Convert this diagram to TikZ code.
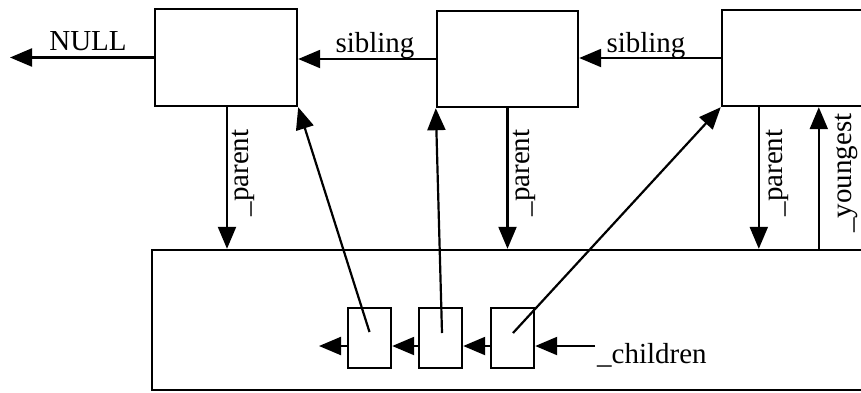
\documentclass[tikz,border=0pt]{standalone}
\usepackage{fontspec}
\setmainfont{Liberation Serif}
\usetikzlibrary{arrows.meta}
\begin{document}
\begin{tikzpicture}[x=1pt,y=-1pt,
  box/.style={draw,line width=2.4pt,rectangle,inner sep=0pt},
  arr/.style={line width=2.2pt,-{Triangle[length=22pt,width=18pt]}},
  lbl/.style={inner sep=0pt,font=\fontsize{29}{31}\selectfont},
  rlbl/.style={lbl,rotate=90}]
  \clip (0,0) rectangle (861,392);
  \fill[white] (0,0) rectangle (861,392);
  % objects of the list
  \node[box,minimum width=142,minimum height=97] (b1) at (226,57.5) {};
  \node[box,minimum width=141,minimum height=96] (b2) at (507.5,59) {};
  \node[box,minimum width=178,minimum height=96] (b3) at (811,58) {};
  % parent object and its child array
  \node[box,minimum width=748,minimum height=140] (big) at (526,320) {};
  \node[box,minimum width=43,minimum height=60] (ca) at (369.5,338) {};
  \node[box,minimum width=43,minimum height=60] (cb) at (440.5,338) {};
  \node[box,minimum width=43,minimum height=60] (cc) at (512.5,338) {};
  \coordinate (null) at (10,57.5);
  \coordinate (aend) at (319,346);
  \coordinate (cin) at (595,346);
  % sibling chain
  \draw[arr] (b1.west) -- (null);
  \node[lbl,anchor=base] (tnull) at (88,50) {NULL};
  \draw[arr] (b2.west) -- (b2.west -| b1.east);
  \node[lbl,anchor=base] (ts1) at (375,52) {sibling};
  \draw[arr] (b3.west) -- (b3.west -| b2.east);
  \node[lbl,anchor=base] (ts2) at (646,52) {sibling};
  % parent pointers
  \draw[arr] ([xshift=1pt]b1.south) -- ([xshift=1pt]b1.south |- big.north);
  \node[rlbl] (tp1) at (243,173) {\_parent};
  \draw[arr] (b2.south) -- (b2.south |- big.north);
  \node[rlbl] (tp2) at (524,173) {\_parent};
  \draw[arr] ([xshift=38pt]b3.south west) -- ([xshift=38pt]b3.south west |- big.north);
  \node[rlbl] (tp3) at (777,173) {\_parent};
  \draw[arr] ([xshift=98pt]b3.south west |- big.north) -- ([xshift=98pt]b3.south west);
  \node[rlbl] (ty) at (846,173) {\_youngest};
  % child array entries
  \draw[arr] ([yshift=6pt]ca.center) -- (b1.south east);
  \draw[arr] ([xshift=1.5pt,yshift=5pt]cb.center) -- (b2.south west);
  \draw[arr] ([xshift=0.5pt,yshift=5pt]cc.center) -- (b3.south west);
  \draw[arr] (cin) -- ([yshift=-8pt]cc.east);
  \draw[arr] ([yshift=-8pt]cc.west) -- ([yshift=-8pt]cb.east);
  \draw[arr] ([yshift=-8pt]cb.west) -- ([yshift=-8pt]ca.east);
  \draw[arr] ([yshift=-8pt]ca.west) -- (aend);
  \node[lbl,anchor=base west] (tc) at (597,363) {\_children};
\end{tikzpicture}
\end{document}
